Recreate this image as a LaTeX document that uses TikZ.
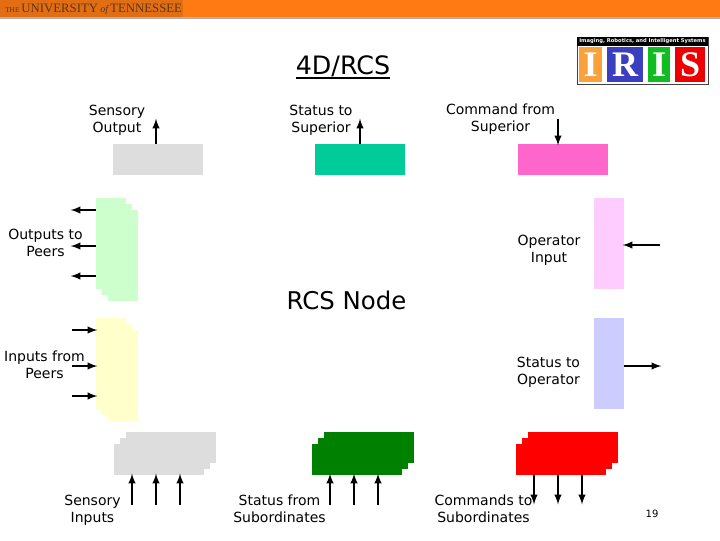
\documentclass[tikz,border=0pt]{standalone}
\usepackage{fontspec}
\setmainfont{DejaVu Sans}
\newfontfamily\logofont{Liberation Serif}
\usetikzlibrary{arrows}
\definecolor{utorange}{HTML}{FF7A12}
\definecolor{utdark}{HTML}{E26E14}
\definecolor{utbrown}{HTML}{5E3414}
\definecolor{utline}{HTML}{B9AEA4}
\definecolor{sensgray}{HTML}{DDDDDD}
\definecolor{statgreen}{HTML}{00CC99}
\definecolor{cmdpink}{HTML}{FF66CC}
\definecolor{peergreen}{HTML}{CCFFCC}
\definecolor{peeryellow}{HTML}{FFFFCC}
\definecolor{oppink}{HTML}{FFCCFF}
\definecolor{opblue}{HTML}{CCCCFF}
\definecolor{subgreen}{HTML}{008000}
\definecolor{irisorange}{HTML}{F9A13A}
\definecolor{irisblue}{HTML}{3A3FBF}
\definecolor{irisgreen}{HTML}{11BB22}
\definecolor{irisred}{HTML}{EE0000}
\tikzset{
  >=latex,
  widebox/.style={minimum width=67.5pt,minimum height=23.25pt,inner sep=0pt,outer sep=0pt},
  tallbox/.style={minimum width=22.5pt,minimum height=68.25pt,inner sep=0pt,outer sep=0pt},
  flow/.style={->,line width=1.5pt,shorten >=-1pt},
  lbl/.style={align=center,inner sep=0pt,font=\fontsize{10.5}{12.75}\selectfont},
  irisletter/.style={inner sep=0pt,outer sep=0pt,minimum height=26.25pt,text=white,
    font=\logofont\bfseries\fontsize{27}{27}\selectfont},
}
\begin{document}
\begin{tikzpicture}[x=0.75pt,y=-0.75pt]
\useasboundingbox (0,0) rectangle (720,540);
% banner
\fill[utorange] (0,0) rectangle (720,16.5);
\fill[utline] (0,16.5) rectangle (720,19);
\fill[utdark] (0,0) rectangle (183,16.5);
\node[anchor=west,inner sep=0pt,text=utbrown] (banner) at (5,9)
{\logofont\fontsize{5.5}{5}\selectfont THE \fontsize{9.6}{11}\selectfont UNIVERSITY\,{\itshape\fontsize{7.5}{9}\selectfont of}\,TENNESSEE};
% logo
\draw[black!75,fill=white] (577,37) rectangle (708,84);
\node[fill=black,text=white,minimum width=98.25pt,minimum height=6.75pt,inner sep=0pt,outer sep=0pt,
  font=\fontsize{3.9}{5}\selectfont\bfseries] (iristitle) at (642.5,41.5) {Imaging, Robotics, and Intelligent Systems};
\node[irisletter,fill=irisorange,minimum width=17.25pt] (irisi) at (590.5,64.5) {I};
\node[irisletter,fill=irisblue,minimum width=27pt] (irisr) at (625,64.5) {R};
\node[irisletter,fill=irisgreen,minimum width=16.5pt] (irisj) at (659,64.5) {I};
\node[irisletter,fill=irisred,minimum width=22.5pt] (iriss) at (690,64.5) {S};
% titles
\node[inner sep=0pt,anchor=base,font=\fontsize{19}{22}\selectfont] (title) at (343,74) {4D/RCS};
\draw[line width=1.5pt] (296,77.5) -- (390,77.5);
\node[inner sep=0pt,font=\fontsize{18.3}{22}\selectfont] (rcsnode) at (346.5,300) {RCS Node};
% top row
\node[widebox,fill=sensgray] (sensout) at (157.5,159.5) {};
\node[widebox,fill=statgreen] (statsup) at (360,159.5) {};
\node[widebox,fill=cmdpink] (cmdsup) at (562.5,159.5) {};
\coordinate (sensoutend) at (156,120);
\coordinate (statsupend) at (360,120);
\coordinate (cmdsupend) at (558,119);
\draw[flow] (sensoutend |- sensout.north) -- (sensoutend);
\draw[flow] (statsupend |- statsup.north) -- (statsupend);
\draw[flow] (cmdsupend) -- (cmdsupend |- cmdsup.north);
\node[lbl] (sensoutlbl) at (117,120) {Sensory\\Output};
\node[lbl] (statsuplbl) at (321,120) {Status to\\Superior};
\node[lbl] (cmdsuplbl) at (500.5,119.5) {Command from\\Superior};
% peers
\foreach \d in {12,6,0}{
  \node[tallbox,fill=peergreen] (outpeers\d) at ({111+\d},{243.5+\d}) {};
  \node[tallbox,fill=peeryellow] (inpeers\d) at ({111+\d},{363.5+\d}) {};
}
\foreach \y in {210,246,276}{
  \coordinate (outend\y) at (72,\y);
  \draw[flow] (outend\y -| outpeers0.west) -- (outend\y);
}
\foreach \y in {330,366,396}{
  \coordinate (inend\y) at (72,\y);
  \draw[flow] (inend\y) -- (inend\y -| inpeers0.west);
}
\node[lbl] (outpeerslbl) at (45.5,242.5) {Outputs to\\Peers};
\node[lbl] (inpeerslbl) at (44.5,364.5) {Inputs from\\Peers};
% operator
\node[tallbox,fill=oppink] (opin) at (609,243.5) {};
\node[tallbox,fill=opblue] (opout) at (609,363.5) {};
\coordinate (opinend) at (660,245);
\coordinate (opoutend) at (660,366);
\draw[flow] (opinend) -- (opinend -| opin.east);
\draw[flow] (opoutend -| opout.east) -- (opoutend);
\node[lbl] (opinlbl) at (549,250.5) {Operator\\Input};
\node[lbl] (opoutlbl) at (548.5,372.5) {Status to\\Operator};
% bottom row
\foreach \d in {12,6,0}{
  \node[widebox,fill=sensgray] (sensin\d) at ({159+\d},{459.5-\d}) {};
  \node[widebox,fill=subgreen] (statsub\d) at ({357+\d},{459.5-\d}) {};
  \node[widebox,fill=red] (cmdsub\d) at ({561+\d},{459.5-\d}) {};
}
\foreach \x in {132,156,180}{
  \coordinate (sinend\x) at (\x,505);
  \draw[flow] (sinend\x) -- (sinend\x |- sensin0.south);
}
\foreach \x in {330,354,378}{
  \coordinate (ssubend\x) at (\x,505);
  \draw[flow] (ssubend\x) -- (ssubend\x |- statsub0.south);
}
\foreach \x in {534,558,582}{
  \coordinate (csubend\x) at (\x,503);
  \draw[flow] (csubend\x |- cmdsub0.south) -- (csubend\x);
}
\node[lbl] (sensinlbl) at (92.5,510) {Sensory\\Inputs};
\node[lbl] (statsublbl) at (279.5,508.5) {Status from\\Subordinates};
\node[lbl] (cmdsublbl) at (483.5,508.5) {Commands to\\Subordinates};
\node[inner sep=0pt,font=\fontsize{7.5}{9}\selectfont] (pagenum) at (652,514) {19};
\end{tikzpicture}
\end{document}
